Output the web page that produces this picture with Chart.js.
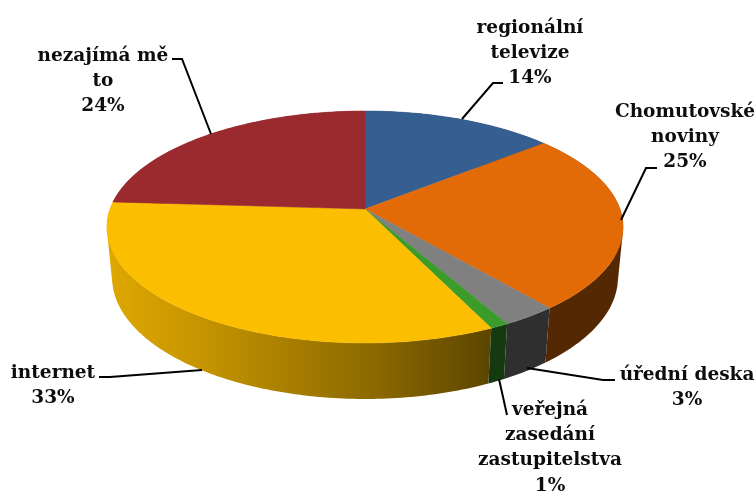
<!DOCTYPE html>
<html lang="cs">
<head>
<meta charset="utf-8">
<title>Zdroje informací</title>
<script src="https://cdn.jsdelivr.net/npm/chart.js@4"></script>
<style>
  html, body { margin: 0; background: #fff; }
  canvas { display: block; }
</style>
</head>
<body>
<canvas id="pie" width="756" height="491"></canvas>
<script>
const categories = [
  ["regionální", "televize"],
  ["Chomutovské", "noviny"],
  ["úřední deska"],
  ["veřejná", "zasedání", "zastupitelstva"],
  ["internet"],
  ["nezajímá mě", "to"],
];
const values = [14, 25, 3, 1, 33, 24];
const colors = ["#355f91", "#e26b08", "#808080", "#3b9c2c", "#fcbe00", "#9a2a2e"];

// label anchor: centre x, first baseline
const labelPos = [[530, 33], [685, 117], [687, 380], [550, 415], [53, 378], [103, 61]];
const leaders = [
  [[503, 83], [493, 83], [462, 119]],
  [[657, 168], [646, 168], [621, 220]],
  [[615, 380], [603, 380], [527, 368]],
  [[507, 415], [499, 379]],
  [[99, 377], [110, 377], [202, 370]],
  [[172, 59], [182, 59], [211, 134]],
];

// perspective of the tilted disc, in units of the library's pie radius
const STRETCH_X = 1.22;
const STRETCH_Y = 0.5416;
const DEPTH = 0.2445;
const TILT = 0.155;
const SINK = 0.02;

// side wall shading, left to right
const wallShade = [[0, 0.88], [0.18, 0.78], [0.52, 0.55], [0.74, 0.37], [1, 0.37]];

function project(arc, angle, z) {
  const X = Math.cos(angle);
  const Y = Math.sin(angle);
  const w = 1 - TILT * Y + SINK * z;
  return [
    arc.x + arc.outerRadius * STRETCH_X * X / w,
    arc.y + arc.outerRadius * (STRETCH_Y * Y + DEPTH * z) / w,
  ];
}

function rimPoints(arc, z) {
  const pts = [];
  const steps = Math.max(4, Math.ceil((arc.endAngle - arc.startAngle) * 60));
  for (let i = 0; i <= steps; i++) {
    pts.push(project(arc, arc.startAngle + (arc.endAngle - arc.startAngle) * i / steps, z));
  }
  return pts;
}

function addPoly(ctx, pts) {
  pts.forEach((p, i) => (i ? ctx.lineTo(p[0], p[1]) : ctx.moveTo(p[0], p[1])));
  ctx.closePath();
}

function signedArea(pts) {
  let sum = 0;
  pts.forEach((p, i) => {
    const q = pts[(i + 1) % pts.length];
    sum += p[0] * q[1] - q[0] * p[1];
  });
  return sum;
}

function shaded(hex, k) {
  const n = parseInt(hex.slice(1), 16);
  const r = Math.round(((n >> 16) & 255) * k);
  const g = Math.round(((n >> 8) & 255) * k);
  const b = Math.round((n & 255) * k);
  return `rgb(${r},${g},${b})`;
}

const pie3d = {
  id: "pie3d",
  beforeDatasetsDraw(chart) {
    const ctx = chart.ctx;
    const arcs = chart.getDatasetMeta(0).data;
    const order = arcs.map((a, i) => i).sort((p, q) => {
      const mid = (a) => Math.sin((a.startAngle + a.endAngle) / 2);
      return mid(arcs[p]) - mid(arcs[q]);
    });

    // wall: all quads in one path, same winding, so no seams and a straight silhouette
    order.forEach((i) => {
      const arc = arcs[i];
      const left = project(arc, Math.PI, 0)[0];
      const right = project(arc, 0, 0)[0];
      const grad = ctx.createLinearGradient(left, 0, right, 0);
      wallShade.forEach(([at, k]) => grad.addColorStop(at, shaded(colors[i], k)));
      const top = rimPoints(arc, 0);
      const bottom = rimPoints(arc, 1);
      ctx.beginPath();
      for (let s = 0; s < top.length - 1; s++) {
        const quad = [top[s], top[s + 1], bottom[s + 1], bottom[s]];
        addPoly(ctx, signedArea(quad) < 0 ? quad.reverse() : quad);
      }
      ctx.fillStyle = grad;
      ctx.fill();
    });

    arcs.forEach((arc, i) => {
      ctx.beginPath();
      addPoly(ctx, [[arc.x, arc.y]].concat(rimPoints(arc, 0)));
      ctx.fillStyle = colors[i];
      ctx.strokeStyle = colors[i];
      ctx.lineWidth = 0.5;
      ctx.fill();
      ctx.stroke();
    });
    return false;
  },
  afterDraw(chart) {
    const ctx = chart.ctx;
    ctx.save();
    ctx.strokeStyle = "#000";
    ctx.lineWidth = 2;
    leaders.forEach((line) => {
      ctx.beginPath();
      line.forEach((p, i) => (i ? ctx.lineTo(p[0], p[1]) : ctx.moveTo(p[0], p[1])));
      ctx.stroke();
    });
    ctx.fillStyle = "#0d0d0d";
    ctx.font = 'bold 18.5px "DejaVu Serif", serif';
    ctx.textAlign = "center";
    ctx.textBaseline = "alphabetic";
    categories.forEach((lines, i) => {
      const rows = lines.concat([values[i] + "%"]);
      rows.forEach((row, r) => ctx.fillText(row, labelPos[i][0], labelPos[i][1] + r * 25.2));
    });
    ctx.restore();
  },
};

new Chart(document.getElementById("pie"), {
  type: "pie",
  data: {
    labels: categories.map((c) => c.join(" ")),
    datasets: [{ data: values, backgroundColor: colors, borderWidth: 0 }],
  },
  options: {
    responsive: false,
    animation: false,
    layout: { padding: { right: 26, bottom: 73 } },
    plugins: { legend: { display: false }, tooltip: { enabled: false } },
  },
  plugins: [pie3d],
});
</script>
</body>
</html>
